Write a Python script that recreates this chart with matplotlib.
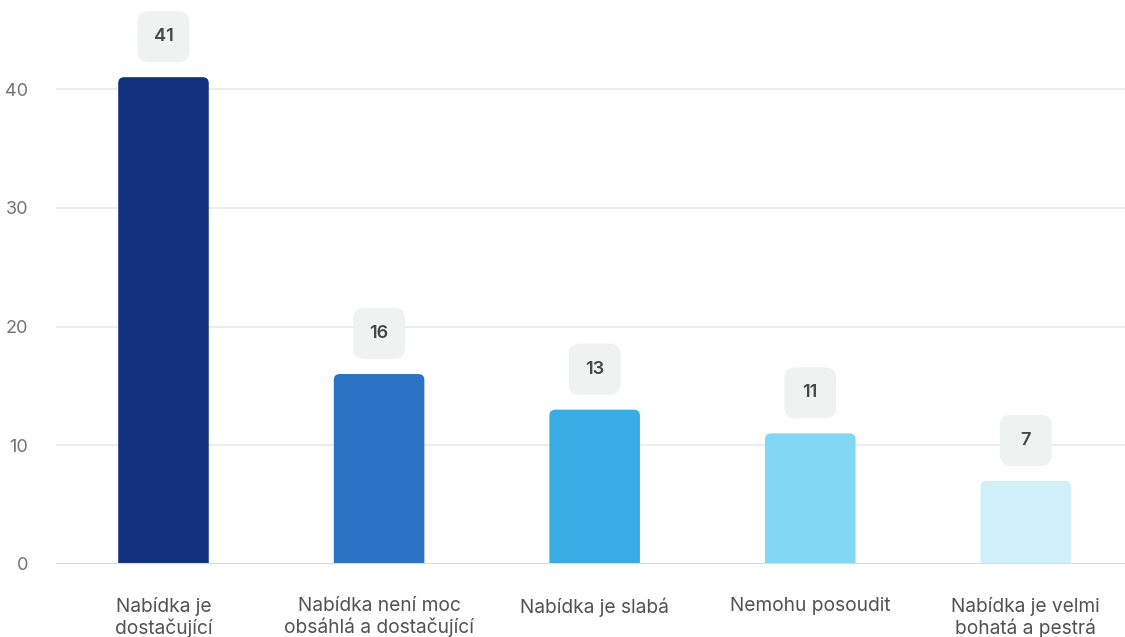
import matplotlib
matplotlib.use("Agg")
import matplotlib.pyplot as plt
from matplotlib.patches import FancyBboxPatch
from matplotlib.transforms import Affine2D, ScaledTranslation

categories = [
    "Nabídka je\ndostačující",
    "Nabídka není moc\nobsáhlá a dostačující",
    "Nabídka je slabá",
    "Nemohu posoudit",
    "Nabídka je velmi\nbohatá a pestrá",
]
values = [41, 16, 13, 11, 7]
colors = ["#13307f", "#2c72c2", "#3aace5", "#82d8f3", "#cff0f9"]
yticks = [0, 10, 20, 30, 40]

plt.rcParams["font.family"] = ["Inter", "DejaVu Sans"]

W, H, DPI = 1125, 637, 100
fig = plt.figure(figsize=(W / DPI, H / DPI), dpi=DPI)
ax = fig.add_axes([56 / W, (H - 564) / H, (W - 56) / W, 564 / H])

bar_w = 0.42
x = list(range(len(values)))
ax.set_xlim(-0.4986, 4.46)
ax.set_ylim(0, 47.5)

# rounded bars: corner radius in pixels converted to data units per axis
fig.canvas.draw()
px_per_x = ax.transData.transform((1, 0))[0] - ax.transData.transform((0, 0))[0]
px_per_y = ax.transData.transform((0, 1))[1] - ax.transData.transform((0, 0))[1]
r_px = 6
for xi, v, c in zip(x, values, colors):
    patch = FancyBboxPatch(
        (xi - bar_w / 2, -2), bar_w, v + 2,
        boxstyle=f"round,pad=0,rounding_size={r_px / px_per_x}",
        mutation_aspect=px_per_x / px_per_y,
        facecolor=c, edgecolor="none", zorder=3,
    )
    ax.add_patch(patch)

# value badges above the bars (sizes in pixels)
for xi, v in zip(x, values):
    tr = Affine2D() + ScaledTranslation(xi, v, ax.transData)
    badge = FancyBboxPatch(
        (-26, 15), 52, 51,
        boxstyle="round,pad=0,rounding_size=11",
        facecolor="#f0f1f1", edgecolor="none", transform=tr,
        clip_on=False, zorder=4,
    )
    ax.add_patch(badge)
    ax.text(0, 40.5, str(v), transform=tr, ha="center", va="center",
            fontsize=13, fontweight="semibold", color="#474747", zorder=5)

ax.set_yticks(yticks)
ax.set_yticklabels([str(t) for t in yticks])
ax.set_xticks(x)
ax.set_xticklabels(categories, linespacing=1.17)
ax.tick_params(axis="y", length=0, pad=20, labelsize=13, labelcolor="#737373")
ax.tick_params(axis="x", length=0, pad=24, labelsize=13.8, labelcolor="#525252")
for lbl in ax.get_xticklabels():
    lbl.set_verticalalignment("top")

for t in yticks[1:]:
    ax.axhline(t, color="#e5e7eb", linewidth=1.1, zorder=1)
ax.axhline(0, color="#d3daee", linewidth=2.2, zorder=4)

for s in ax.spines.values():
    s.set_visible(False)

fig.savefig("out.png", dpi=DPI)
